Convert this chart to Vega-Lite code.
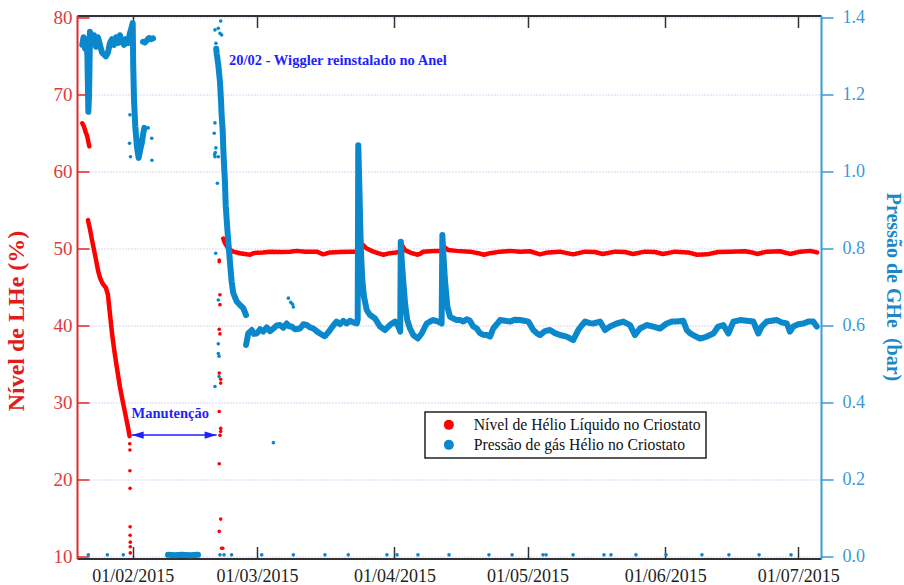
{
  "$schema": "https://vega.github.io/schema/vega-lite/v6.json",
  "width": 744,
  "height": 543,
  "autosize": {"type": "none"},
  "padding": {"left": 77, "top": 15.5, "right": 83, "bottom": 26.5},
  "background": "white",
  "config": {
    "view": {"stroke": null},
    "font": "Liberation Serif",
    "legend": {"strokeWidth": 1.5}
  },
  "datasets": {
    "lhe_linha": [
      {"data": "2015-01-20T15:00", "nivel": 66.3, "trecho": 1},
      {"data": "2015-01-21T00:00", "nivel": 65.9, "trecho": 1},
      {"data": "2015-01-21T09:00", "nivel": 65.2, "trecho": 1},
      {"data": "2015-01-21T18:00", "nivel": 64.6, "trecho": 1},
      {"data": "2015-01-22T05:00", "nivel": 63.3, "trecho": 1},
      {"data": "2015-01-21T22:00", "nivel": 53.7, "trecho": 2},
      {"data": "2015-01-22T09:00", "nivel": 52.5, "trecho": 2},
      {"data": "2015-01-22T20:00", "nivel": 51.1, "trecho": 2},
      {"data": "2015-01-23T07:00", "nivel": 49.8, "trecho": 2},
      {"data": "2015-01-23T18:00", "nivel": 48.5, "trecho": 2},
      {"data": "2015-01-24T04:00", "nivel": 47.2, "trecho": 2},
      {"data": "2015-01-24T15:00", "nivel": 46.2, "trecho": 2},
      {"data": "2015-01-25T02:00", "nivel": 45.6, "trecho": 2},
      {"data": "2015-01-25T13:00", "nivel": 45.2, "trecho": 2},
      {"data": "2015-01-25T23:00", "nivel": 44.9, "trecho": 2},
      {"data": "2015-01-26T10:00", "nivel": 44.0, "trecho": 2},
      {"data": "2015-01-26T21:00", "nivel": 41.5, "trecho": 2},
      {"data": "2015-01-27T08:00", "nivel": 39.0, "trecho": 2},
      {"data": "2015-01-27T19:00", "nivel": 37.0, "trecho": 2},
      {"data": "2015-01-28T06:00", "nivel": 35.2, "trecho": 2},
      {"data": "2015-01-28T17:00", "nivel": 33.5, "trecho": 2},
      {"data": "2015-01-29T03:00", "nivel": 32.0, "trecho": 2},
      {"data": "2015-01-29T14:00", "nivel": 30.6, "trecho": 2},
      {"data": "2015-01-30T01:00", "nivel": 29.3, "trecho": 2},
      {"data": "2015-01-30T12:00", "nivel": 28.0, "trecho": 2},
      {"data": "2015-01-30T23:00", "nivel": 26.7, "trecho": 2},
      {"data": "2015-01-31T07:00", "nivel": 25.6, "trecho": 2},
      {"data": "2015-02-21T10:00", "nivel": 51.3, "trecho": 3},
      {"data": "2015-02-21T19:00", "nivel": 50.7, "trecho": 3},
      {"data": "2015-02-22T13:00", "nivel": 50.0, "trecho": 3},
      {"data": "2015-02-23T16:00", "nivel": 49.6, "trecho": 3},
      {"data": "2015-02-25T04:00", "nivel": 49.4, "trecho": 3},
      {"data": "2015-02-26T17:00", "nivel": 49.25, "trecho": 3},
      {"data": "2015-02-27T11:00", "nivel": 49.2, "trecho": 3},
      {"data": "2015-02-28T04:00", "nivel": 49.4, "trecho": 3},
      {"data": "2015-02-28T23:00", "nivel": 49.45, "trecho": 3},
      {"data": "2015-03-02T09:00", "nivel": 49.5, "trecho": 3},
      {"data": "2015-03-03T23:00", "nivel": 49.6, "trecho": 3},
      {"data": "2015-03-06T05:00", "nivel": 49.55, "trecho": 3},
      {"data": "2015-03-08T11:00", "nivel": 49.6, "trecho": 3},
      {"data": "2015-03-09T23:00", "nivel": 49.7, "trecho": 3},
      {"data": "2015-03-11T20:00", "nivel": 49.6, "trecho": 3},
      {"data": "2015-03-14T11:00", "nivel": 49.6, "trecho": 3},
      {"data": "2015-03-15T23:00", "nivel": 49.25, "trecho": 3},
      {"data": "2015-03-17T11:00", "nivel": 49.5, "trecho": 3},
      {"data": "2015-03-19T17:00", "nivel": 49.55, "trecho": 3},
      {"data": "2015-03-21T23:00", "nivel": 49.6, "trecho": 3},
      {"data": "2015-03-23T17:00", "nivel": 49.6, "trecho": 3},
      {"data": "2015-03-23T20:00", "nivel": 51.1, "trecho": 3},
      {"data": "2015-03-24T02:00", "nivel": 50.7, "trecho": 3},
      {"data": "2015-03-24T20:00", "nivel": 50.5, "trecho": 3},
      {"data": "2015-03-25T18:00", "nivel": 50.0, "trecho": 3},
      {"data": "2015-03-26T12:00", "nivel": 49.8, "trecho": 3},
      {"data": "2015-03-27T06:00", "nivel": 49.6, "trecho": 3},
      {"data": "2015-03-28T07:00", "nivel": 49.4, "trecho": 3},
      {"data": "2015-03-29T12:00", "nivel": 49.2, "trecho": 3},
      {"data": "2015-03-30T23:00", "nivel": 49.4, "trecho": 3},
      {"data": "2015-04-01T08:00", "nivel": 49.5, "trecho": 3},
      {"data": "2015-04-02T07:00", "nivel": 49.6, "trecho": 3},
      {"data": "2015-04-02T15:00", "nivel": 50.5, "trecho": 3},
      {"data": "2015-04-03T09:00", "nivel": 49.8, "trecho": 3},
      {"data": "2015-04-04T03:00", "nivel": 49.6, "trecho": 3},
      {"data": "2015-04-04T21:00", "nivel": 49.4, "trecho": 3},
      {"data": "2015-04-06T06:00", "nivel": 49.2, "trecho": 3},
      {"data": "2015-04-06T18:00", "nivel": 49.3, "trecho": 3},
      {"data": "2015-04-07T12:00", "nivel": 49.6, "trecho": 3},
      {"data": "2015-04-09T00:00", "nivel": 49.65, "trecho": 3},
      {"data": "2015-04-10T09:00", "nivel": 49.7, "trecho": 3},
      {"data": "2015-04-11T15:00", "nivel": 49.7, "trecho": 3},
      {"data": "2015-04-12T00:00", "nivel": 50.3, "trecho": 3},
      {"data": "2015-04-13T03:00", "nivel": 49.8, "trecho": 3},
      {"data": "2015-04-15T00:00", "nivel": 49.7, "trecho": 3},
      {"data": "2015-04-18T00:00", "nivel": 49.6, "trecho": 3},
      {"data": "2015-04-19T21:00", "nivel": 49.4, "trecho": 3},
      {"data": "2015-04-21T04:00", "nivel": 49.2, "trecho": 3},
      {"data": "2015-04-22T13:00", "nivel": 49.4, "trecho": 3},
      {"data": "2015-04-24T19:00", "nivel": 49.6, "trecho": 3},
      {"data": "2015-04-27T01:00", "nivel": 49.7, "trecho": 3},
      {"data": "2015-04-29T07:00", "nivel": 49.6, "trecho": 3},
      {"data": "2015-05-01T13:00", "nivel": 49.65, "trecho": 3},
      {"data": "2015-05-03T19:00", "nivel": 49.25, "trecho": 3},
      {"data": "2015-05-05T14:00", "nivel": 49.5, "trecho": 3},
      {"data": "2015-05-08T07:00", "nivel": 49.6, "trecho": 3},
      {"data": "2015-05-11T06:00", "nivel": 49.25, "trecho": 3},
      {"data": "2015-05-13T23:00", "nivel": 49.6, "trecho": 3},
      {"data": "2015-05-16T04:00", "nivel": 49.55, "trecho": 3},
      {"data": "2015-05-17T23:00", "nivel": 49.3, "trecho": 3},
      {"data": "2015-05-20T17:00", "nivel": 49.6, "trecho": 3},
      {"data": "2015-05-22T23:00", "nivel": 49.55, "trecho": 3},
      {"data": "2015-05-24T18:00", "nivel": 49.3, "trecho": 3},
      {"data": "2015-05-27T11:00", "nivel": 49.6, "trecho": 3},
      {"data": "2015-05-29T17:00", "nivel": 49.55, "trecho": 3},
      {"data": "2015-05-31T12:00", "nivel": 49.3, "trecho": 3},
      {"data": "2015-06-03T06:00", "nivel": 49.6, "trecho": 3},
      {"data": "2015-06-06T04:00", "nivel": 49.5, "trecho": 3},
      {"data": "2015-06-08T05:00", "nivel": 49.2, "trecho": 3},
      {"data": "2015-06-10T11:00", "nivel": 49.25, "trecho": 3},
      {"data": "2015-06-12T22:00", "nivel": 49.55, "trecho": 3},
      {"data": "2015-06-15T15:00", "nivel": 49.6, "trecho": 3},
      {"data": "2015-06-19T00:00", "nivel": 49.65, "trecho": 3},
      {"data": "2015-06-20T14:00", "nivel": 49.5, "trecho": 3},
      {"data": "2015-06-21T17:00", "nivel": 49.3, "trecho": 3},
      {"data": "2015-06-23T23:00", "nivel": 49.6, "trecho": 3},
      {"data": "2015-06-26T21:00", "nivel": 49.65, "trecho": 3},
      {"data": "2015-06-29T03:00", "nivel": 49.3, "trecho": 3},
      {"data": "2015-07-01T10:00", "nivel": 49.6, "trecho": 3},
      {"data": "2015-07-03T16:00", "nivel": 49.7, "trecho": 3},
      {"data": "2015-07-05T06:00", "nivel": 49.5, "trecho": 3}
    ],
    "lhe_pontos": [
      {"data": "2015-01-31T08:00", "nivel": 24.6},
      {"data": "2015-01-31T09:00", "nivel": 23.8},
      {"data": "2015-01-31T09:00", "nivel": 21.1},
      {"data": "2015-01-31T10:00", "nivel": 18.8},
      {"data": "2015-01-31T10:00", "nivel": 13.8},
      {"data": "2015-01-31T10:00", "nivel": 12.7},
      {"data": "2015-01-31T11:00", "nivel": 11.8},
      {"data": "2015-01-31T11:00", "nivel": 11.2},
      {"data": "2015-01-31T11:00", "nivel": 10.4},
      {"data": "2015-02-20T12:00", "nivel": 48.5},
      {"data": "2015-02-20T12:00", "nivel": 48.3},
      {"data": "2015-02-20T16:00", "nivel": 44.0},
      {"data": "2015-02-20T16:00", "nivel": 42.7},
      {"data": "2015-02-20T12:00", "nivel": 39.5},
      {"data": "2015-02-20T16:00", "nivel": 38.9},
      {"data": "2015-02-20T12:00", "nivel": 33.8},
      {"data": "2015-02-20T20:00", "nivel": 33.0},
      {"data": "2015-02-20T20:00", "nivel": 32.5},
      {"data": "2015-02-20T12:00", "nivel": 28.8},
      {"data": "2015-02-20T20:00", "nivel": 26.6},
      {"data": "2015-02-20T20:00", "nivel": 26.2},
      {"data": "2015-02-20T16:00", "nivel": 25.7},
      {"data": "2015-02-20T12:00", "nivel": 22.0},
      {"data": "2015-02-20T20:00", "nivel": 14.8},
      {"data": "2015-02-20T12:00", "nivel": 13.2},
      {"data": "2015-02-21T01:00", "nivel": 11.0},
      {"data": "2015-02-21T07:00", "nivel": 11.0}
    ],
    "ghe_linha": [
      {"data": "2015-01-20T15:00", "pressao": 1.33, "trecho": 1},
      {"data": "2015-01-20T22:00", "pressao": 1.35, "trecho": 1},
      {"data": "2015-01-21T06:00", "pressao": 1.32, "trecho": 1},
      {"data": "2015-01-21T14:00", "pressao": 1.345, "trecho": 1},
      {"data": "2015-01-21T19:00", "pressao": 1.30, "trecho": 1},
      {"data": "2015-01-22T00:00", "pressao": 1.156, "trecho": 1},
      {"data": "2015-01-22T04:00", "pressao": 1.20, "trecho": 1},
      {"data": "2015-01-22T09:00", "pressao": 1.364, "trecho": 1},
      {"data": "2015-01-22T20:00", "pressao": 1.33, "trecho": 1},
      {"data": "2015-01-23T07:00", "pressao": 1.355, "trecho": 1},
      {"data": "2015-01-23T18:00", "pressao": 1.325, "trecho": 1},
      {"data": "2015-01-24T04:00", "pressao": 1.35, "trecho": 1},
      {"data": "2015-01-24T15:00", "pressao": 1.33, "trecho": 1},
      {"data": "2015-01-25T02:00", "pressao": 1.31, "trecho": 1},
      {"data": "2015-01-25T13:00", "pressao": 1.305, "trecho": 1},
      {"data": "2015-01-25T23:00", "pressao": 1.30, "trecho": 1},
      {"data": "2015-01-26T10:00", "pressao": 1.31, "trecho": 1},
      {"data": "2015-01-26T21:00", "pressao": 1.335, "trecho": 1},
      {"data": "2015-01-27T08:00", "pressao": 1.345, "trecho": 1},
      {"data": "2015-01-27T19:00", "pressao": 1.33, "trecho": 1},
      {"data": "2015-01-28T06:00", "pressao": 1.35, "trecho": 1},
      {"data": "2015-01-28T17:00", "pressao": 1.335, "trecho": 1},
      {"data": "2015-01-29T03:00", "pressao": 1.355, "trecho": 1},
      {"data": "2015-01-29T14:00", "pressao": 1.34, "trecho": 1},
      {"data": "2015-01-30T01:00", "pressao": 1.33, "trecho": 1},
      {"data": "2015-01-30T12:00", "pressao": 1.345, "trecho": 1},
      {"data": "2015-01-30T23:00", "pressao": 1.335, "trecho": 1},
      {"data": "2015-01-31T09:00", "pressao": 1.36, "trecho": 1},
      {"data": "2015-01-31T18:00", "pressao": 1.375, "trecho": 1},
      {"data": "2015-02-01T00:00", "pressao": 1.387, "trecho": 1},
      {"data": "2015-02-01T03:00", "pressao": 1.273, "trecho": 1},
      {"data": "2015-02-01T07:00", "pressao": 1.187, "trecho": 1},
      {"data": "2015-02-01T14:00", "pressao": 1.117, "trecho": 1},
      {"data": "2015-02-01T23:00", "pressao": 1.065, "trecho": 1},
      {"data": "2015-02-02T08:00", "pressao": 1.036, "trecho": 1},
      {"data": "2015-02-02T18:00", "pressao": 1.06, "trecho": 1},
      {"data": "2015-02-03T01:00", "pressao": 1.074, "trecho": 1},
      {"data": "2015-02-03T09:00", "pressao": 1.10, "trecho": 1},
      {"data": "2015-02-03T15:00", "pressao": 1.114, "trecho": 1},
      {"data": "2015-02-03T08:00", "pressao": 1.338, "trecho": 2},
      {"data": "2015-02-03T18:00", "pressao": 1.336, "trecho": 2},
      {"data": "2015-02-04T05:00", "pressao": 1.342, "trecho": 2},
      {"data": "2015-02-04T16:00", "pressao": 1.348, "trecho": 2},
      {"data": "2015-02-05T03:00", "pressao": 1.345, "trecho": 2},
      {"data": "2015-02-05T14:00", "pressao": 1.347, "trecho": 2},
      {"data": "2015-02-08T23:00", "pressao": 0.003, "trecho": 3},
      {"data": "2015-02-10T12:00", "pressao": 0.002, "trecho": 3},
      {"data": "2015-02-12T00:00", "pressao": 0.003, "trecho": 3},
      {"data": "2015-02-14T00:00", "pressao": 0.002, "trecho": 3},
      {"data": "2015-02-15T17:00", "pressao": 0.003, "trecho": 3},
      {"data": "2015-02-19T20:00", "pressao": 1.32, "trecho": 4},
      {"data": "2015-02-19T22:00", "pressao": 1.308, "trecho": 4},
      {"data": "2015-02-20T07:00", "pressao": 1.278, "trecho": 4},
      {"data": "2015-02-20T16:00", "pressao": 1.234, "trecho": 4},
      {"data": "2015-02-20T22:00", "pressao": 1.182, "trecho": 4},
      {"data": "2015-02-21T01:00", "pressao": 1.148, "trecho": 4},
      {"data": "2015-02-21T07:00", "pressao": 1.104, "trecho": 4},
      {"data": "2015-02-21T10:00", "pressao": 1.061, "trecho": 4},
      {"data": "2015-02-21T14:00", "pressao": 1.018, "trecho": 4},
      {"data": "2015-02-21T19:00", "pressao": 0.974, "trecho": 4},
      {"data": "2015-02-21T23:00", "pressao": 0.913, "trecho": 4},
      {"data": "2015-02-22T05:00", "pressao": 0.870, "trecho": 4},
      {"data": "2015-02-22T13:00", "pressao": 0.818, "trecho": 4},
      {"data": "2015-02-22T22:00", "pressao": 0.766, "trecho": 4},
      {"data": "2015-02-23T07:00", "pressao": 0.714, "trecho": 4},
      {"data": "2015-02-23T16:00", "pressao": 0.684, "trecho": 4},
      {"data": "2015-02-24T11:00", "pressao": 0.662, "trecho": 4},
      {"data": "2015-02-25T04:00", "pressao": 0.653, "trecho": 4},
      {"data": "2015-02-25T22:00", "pressao": 0.645, "trecho": 4},
      {"data": "2015-02-26T13:00", "pressao": 0.627, "trecho": 4},
      {"data": "2015-02-26T13:00", "pressao": 0.549, "trecho": 5},
      {"data": "2015-02-27T01:00", "pressao": 0.579, "trecho": 5},
      {"data": "2015-02-27T20:00", "pressao": 0.588, "trecho": 5},
      {"data": "2015-02-28T08:00", "pressao": 0.578, "trecho": 5},
      {"data": "2015-02-28T23:00", "pressao": 0.579, "trecho": 5},
      {"data": "2015-03-01T17:00", "pressao": 0.59, "trecho": 5},
      {"data": "2015-03-02T10:00", "pressao": 0.584, "trecho": 5},
      {"data": "2015-03-03T05:00", "pressao": 0.595, "trecho": 5},
      {"data": "2015-03-03T23:00", "pressao": 0.585, "trecho": 5},
      {"data": "2015-03-04T17:00", "pressao": 0.592, "trecho": 5},
      {"data": "2015-03-05T11:00", "pressao": 0.60, "trecho": 5},
      {"data": "2015-03-06T05:00", "pressao": 0.601, "trecho": 5},
      {"data": "2015-03-06T23:00", "pressao": 0.594, "trecho": 5},
      {"data": "2015-03-07T17:00", "pressao": 0.605, "trecho": 5},
      {"data": "2015-03-08T06:00", "pressao": 0.598, "trecho": 5},
      {"data": "2015-03-08T20:00", "pressao": 0.597, "trecho": 5},
      {"data": "2015-03-09T14:00", "pressao": 0.59, "trecho": 5},
      {"data": "2015-03-10T17:00", "pressao": 0.592, "trecho": 5},
      {"data": "2015-03-11T11:00", "pressao": 0.603, "trecho": 5},
      {"data": "2015-03-12T05:00", "pressao": 0.601, "trecho": 5},
      {"data": "2015-03-12T23:00", "pressao": 0.595, "trecho": 5},
      {"data": "2015-03-13T17:00", "pressao": 0.592, "trecho": 5},
      {"data": "2015-03-14T11:00", "pressao": 0.585, "trecho": 5},
      {"data": "2015-03-15T05:00", "pressao": 0.579, "trecho": 5},
      {"data": "2015-03-15T19:00", "pressao": 0.575, "trecho": 5},
      {"data": "2015-03-16T08:00", "pressao": 0.572, "trecho": 5},
      {"data": "2015-03-16T22:00", "pressao": 0.58, "trecho": 5},
      {"data": "2015-03-17T11:00", "pressao": 0.588, "trecho": 5},
      {"data": "2015-03-18T05:00", "pressao": 0.60, "trecho": 5},
      {"data": "2015-03-18T23:00", "pressao": 0.610, "trecho": 5},
      {"data": "2015-03-19T17:00", "pressao": 0.603, "trecho": 5},
      {"data": "2015-03-20T11:00", "pressao": 0.612, "trecho": 5},
      {"data": "2015-03-21T06:00", "pressao": 0.605, "trecho": 5},
      {"data": "2015-03-21T23:00", "pressao": 0.612, "trecho": 5},
      {"data": "2015-03-22T17:00", "pressao": 0.608, "trecho": 5},
      {"data": "2015-03-23T12:00", "pressao": 0.605, "trecho": 5},
      {"data": "2015-03-23T17:00", "pressao": 0.615, "trecho": 5},
      {"data": "2015-03-23T20:00", "pressao": 1.069, "trecho": 5},
      {"data": "2015-03-24T02:00", "pressao": 0.961, "trecho": 5},
      {"data": "2015-03-24T06:00", "pressao": 0.874, "trecho": 5},
      {"data": "2015-03-24T11:00", "pressao": 0.788, "trecho": 5},
      {"data": "2015-03-24T18:00", "pressao": 0.718, "trecho": 5},
      {"data": "2015-03-25T03:00", "pressao": 0.675, "trecho": 5},
      {"data": "2015-03-25T18:00", "pressao": 0.640, "trecho": 5},
      {"data": "2015-03-26T12:00", "pressao": 0.627, "trecho": 5},
      {"data": "2015-03-27T15:00", "pressao": 0.618, "trecho": 5},
      {"data": "2015-03-28T18:00", "pressao": 0.597, "trecho": 5},
      {"data": "2015-03-29T21:00", "pressao": 0.588, "trecho": 5},
      {"data": "2015-03-30T23:00", "pressao": 0.601, "trecho": 5},
      {"data": "2015-04-01T03:00", "pressao": 0.610, "trecho": 5},
      {"data": "2015-04-01T21:00", "pressao": 0.597, "trecho": 5},
      {"data": "2015-04-02T07:00", "pressao": 0.584, "trecho": 5},
      {"data": "2015-04-02T10:00", "pressao": 0.818, "trecho": 5},
      {"data": "2015-04-02T15:00", "pressao": 0.770, "trecho": 5},
      {"data": "2015-04-02T23:00", "pressao": 0.718, "trecho": 5},
      {"data": "2015-04-03T09:00", "pressao": 0.658, "trecho": 5},
      {"data": "2015-04-03T21:00", "pressao": 0.614, "trecho": 5},
      {"data": "2015-04-04T12:00", "pressao": 0.592, "trecho": 5},
      {"data": "2015-04-05T06:00", "pressao": 0.575, "trecho": 5},
      {"data": "2015-04-06T06:00", "pressao": 0.566, "trecho": 5},
      {"data": "2015-04-07T03:00", "pressao": 0.579, "trecho": 5},
      {"data": "2015-04-08T06:00", "pressao": 0.605, "trecho": 5},
      {"data": "2015-04-09T00:00", "pressao": 0.61, "trecho": 5},
      {"data": "2015-04-09T18:00", "pressao": 0.614, "trecho": 5},
      {"data": "2015-04-10T21:00", "pressao": 0.610, "trecho": 5},
      {"data": "2015-04-11T15:00", "pressao": 0.605, "trecho": 5},
      {"data": "2015-04-11T19:00", "pressao": 0.835, "trecho": 5},
      {"data": "2015-04-12T00:00", "pressao": 0.788, "trecho": 5},
      {"data": "2015-04-12T09:00", "pressao": 0.718, "trecho": 5},
      {"data": "2015-04-12T22:00", "pressao": 0.649, "trecho": 5},
      {"data": "2015-04-13T12:00", "pressao": 0.623, "trecho": 5},
      {"data": "2015-04-14T05:00", "pressao": 0.618, "trecho": 5},
      {"data": "2015-04-15T00:00", "pressao": 0.614, "trecho": 5},
      {"data": "2015-04-15T18:00", "pressao": 0.614, "trecho": 5},
      {"data": "2015-04-16T12:00", "pressao": 0.610, "trecho": 5},
      {"data": "2015-04-17T07:00", "pressao": 0.616, "trecho": 5},
      {"data": "2015-04-18T00:00", "pressao": 0.612, "trecho": 5},
      {"data": "2015-04-18T17:00", "pressao": 0.598, "trecho": 5},
      {"data": "2015-04-19T13:00", "pressao": 0.592, "trecho": 5},
      {"data": "2015-04-20T06:00", "pressao": 0.580, "trecho": 5},
      {"data": "2015-04-21T00:00", "pressao": 0.576, "trecho": 5},
      {"data": "2015-04-21T19:00", "pressao": 0.575, "trecho": 5},
      {"data": "2015-04-22T13:00", "pressao": 0.571, "trecho": 5},
      {"data": "2015-04-23T06:00", "pressao": 0.592, "trecho": 5},
      {"data": "2015-04-24T01:00", "pressao": 0.603, "trecho": 5},
      {"data": "2015-04-24T19:00", "pressao": 0.614, "trecho": 5},
      {"data": "2015-04-25T22:00", "pressao": 0.612, "trecho": 5},
      {"data": "2015-04-27T01:00", "pressao": 0.610, "trecho": 5},
      {"data": "2015-04-28T04:00", "pressao": 0.615, "trecho": 5},
      {"data": "2015-04-29T07:00", "pressao": 0.614, "trecho": 5},
      {"data": "2015-04-30T05:00", "pressao": 0.612, "trecho": 5},
      {"data": "2015-05-01T04:00", "pressao": 0.610, "trecho": 5},
      {"data": "2015-05-02T07:00", "pressao": 0.588, "trecho": 5},
      {"data": "2015-05-03T01:00", "pressao": 0.580, "trecho": 5},
      {"data": "2015-05-03T19:00", "pressao": 0.575, "trecho": 5},
      {"data": "2015-05-04T22:00", "pressao": 0.585, "trecho": 5},
      {"data": "2015-05-06T01:00", "pressao": 0.588, "trecho": 5},
      {"data": "2015-05-07T04:00", "pressao": 0.580, "trecho": 5},
      {"data": "2015-05-08T07:00", "pressao": 0.575, "trecho": 5},
      {"data": "2015-05-09T19:00", "pressao": 0.571, "trecho": 5},
      {"data": "2015-05-11T07:00", "pressao": 0.562, "trecho": 5},
      {"data": "2015-05-12T10:00", "pressao": 0.588, "trecho": 5},
      {"data": "2015-05-13T05:00", "pressao": 0.600, "trecho": 5},
      {"data": "2015-05-13T23:00", "pressao": 0.610, "trecho": 5},
      {"data": "2015-05-15T01:00", "pressao": 0.606, "trecho": 5},
      {"data": "2015-05-15T19:00", "pressao": 0.605, "trecho": 5},
      {"data": "2015-05-17T08:00", "pressao": 0.610, "trecho": 5},
      {"data": "2015-05-18T11:00", "pressao": 0.588, "trecho": 5},
      {"data": "2015-05-19T14:00", "pressao": 0.597, "trecho": 5},
      {"data": "2015-05-21T02:00", "pressao": 0.605, "trecho": 5},
      {"data": "2015-05-22T14:00", "pressao": 0.610, "trecho": 5},
      {"data": "2015-05-24T02:00", "pressao": 0.601, "trecho": 5},
      {"data": "2015-05-25T05:00", "pressao": 0.575, "trecho": 5},
      {"data": "2015-05-26T08:00", "pressao": 0.592, "trecho": 5},
      {"data": "2015-05-27T20:00", "pressao": 0.601, "trecho": 5},
      {"data": "2015-05-29T08:00", "pressao": 0.597, "trecho": 5},
      {"data": "2015-05-30T20:00", "pressao": 0.592, "trecho": 5},
      {"data": "2015-06-01T08:00", "pressao": 0.605, "trecho": 5},
      {"data": "2015-06-02T12:00", "pressao": 0.610, "trecho": 5},
      {"data": "2015-06-03T14:00", "pressao": 0.610, "trecho": 5},
      {"data": "2015-06-05T02:00", "pressao": 0.612, "trecho": 5},
      {"data": "2015-06-05T21:00", "pressao": 0.588, "trecho": 5},
      {"data": "2015-06-06T14:00", "pressao": 0.580, "trecho": 5},
      {"data": "2015-06-07T08:00", "pressao": 0.575, "trecho": 5},
      {"data": "2015-06-08T03:00", "pressao": 0.570, "trecho": 5},
      {"data": "2015-06-08T21:00", "pressao": 0.566, "trecho": 5},
      {"data": "2015-06-09T14:00", "pressao": 0.568, "trecho": 5},
      {"data": "2015-06-10T09:00", "pressao": 0.571, "trecho": 5},
      {"data": "2015-06-11T03:00", "pressao": 0.575, "trecho": 5},
      {"data": "2015-06-11T21:00", "pressao": 0.579, "trecho": 5},
      {"data": "2015-06-12T23:00", "pressao": 0.597, "trecho": 5},
      {"data": "2015-06-14T03:00", "pressao": 0.601, "trecho": 5},
      {"data": "2015-06-15T06:00", "pressao": 0.579, "trecho": 5},
      {"data": "2015-06-16T09:00", "pressao": 0.610, "trecho": 5},
      {"data": "2015-06-17T21:00", "pressao": 0.614, "trecho": 5},
      {"data": "2015-06-19T09:00", "pressao": 0.612, "trecho": 5},
      {"data": "2015-06-20T21:00", "pressao": 0.610, "trecho": 5},
      {"data": "2015-06-22T00:00", "pressao": 0.579, "trecho": 5},
      {"data": "2015-06-22T18:00", "pressao": 0.597, "trecho": 5},
      {"data": "2015-06-23T21:00", "pressao": 0.610, "trecho": 5},
      {"data": "2015-06-25T00:00", "pressao": 0.612, "trecho": 5},
      {"data": "2015-06-26T03:00", "pressao": 0.614, "trecho": 5},
      {"data": "2015-06-27T06:00", "pressao": 0.608, "trecho": 5},
      {"data": "2015-06-28T10:00", "pressao": 0.605, "trecho": 5},
      {"data": "2015-06-29T03:00", "pressao": 0.584, "trecho": 5},
      {"data": "2015-06-29T21:00", "pressao": 0.597, "trecho": 5},
      {"data": "2015-07-01T00:00", "pressao": 0.603, "trecho": 5},
      {"data": "2015-07-02T03:00", "pressao": 0.605, "trecho": 5},
      {"data": "2015-07-03T06:00", "pressao": 0.610, "trecho": 5},
      {"data": "2015-07-04T09:00", "pressao": 0.610, "trecho": 5},
      {"data": "2015-07-05T04:00", "pressao": 0.597, "trecho": 5}
    ],
    "ghe_pontos": [
      {"data": "2015-01-22T00:00", "pressao": 0.003},
      {"data": "2015-01-26T07:00", "pressao": 0.003},
      {"data": "2015-01-29T21:00", "pressao": 0.003},
      {"data": "2015-01-31T09:00", "pressao": 1.148},
      {"data": "2015-01-31T07:00", "pressao": 1.074},
      {"data": "2015-01-31T12:00", "pressao": 1.039},
      {"data": "2015-02-04T12:00", "pressao": 1.114},
      {"data": "2015-02-05T07:00", "pressao": 1.087},
      {"data": "2015-02-05T08:00", "pressao": 1.030},
      {"data": "2015-02-20T20:00", "pressao": 1.392},
      {"data": "2015-02-20T07:00", "pressao": 1.373},
      {"data": "2015-02-20T16:00", "pressao": 1.36},
      {"data": "2015-02-21T01:00", "pressao": 1.356},
      {"data": "2015-02-19T18:00", "pressao": 1.334},
      {"data": "2015-02-19T13:00", "pressao": 1.369},
      {"data": "2015-02-19T13:00", "pressao": 1.127},
      {"data": "2015-02-19T09:00", "pressao": 1.10},
      {"data": "2015-02-19T18:00", "pressao": 1.062},
      {"data": "2015-02-19T13:00", "pressao": 1.039},
      {"data": "2015-02-20T07:00", "pressao": 1.039},
      {"data": "2015-02-19T15:00", "pressao": 1.05},
      {"data": "2015-02-19T11:00", "pressao": 1.045},
      {"data": "2015-02-20T02:00", "pressao": 0.970},
      {"data": "2015-02-19T17:00", "pressao": 0.788},
      {"data": "2015-02-20T07:00", "pressao": 0.666},
      {"data": "2015-02-20T07:00", "pressao": 0.552},
      {"data": "2015-02-20T07:00", "pressao": 0.527},
      {"data": "2015-02-20T11:00", "pressao": 0.52},
      {"data": "2015-02-20T11:00", "pressao": 0.467},
      {"data": "2015-02-19T13:00", "pressao": 0.441},
      {"data": "2015-03-04T17:00", "pressao": 0.295},
      {"data": "2015-03-08T02:00", "pressao": 0.671},
      {"data": "2015-03-08T15:00", "pressao": 0.66},
      {"data": "2015-03-09T01:00", "pressao": 0.655},
      {"data": "2015-03-09T05:00", "pressao": 0.648},
      {"data": "2015-02-20T16:00", "pressao": 0.003},
      {"data": "2015-02-21T14:00", "pressao": 0.003},
      {"data": "2015-02-23T07:00", "pressao": 0.003},
      {"data": "2015-03-02T02:00", "pressao": 0.003},
      {"data": "2015-03-09T05:00", "pressao": 0.003},
      {"data": "2015-03-16T08:00", "pressao": 0.003},
      {"data": "2015-03-21T14:00", "pressao": 0.003},
      {"data": "2015-03-30T07:00", "pressao": 0.003},
      {"data": "2015-04-01T14:00", "pressao": 0.003},
      {"data": "2015-04-06T07:00", "pressao": 0.003},
      {"data": "2015-04-13T07:00", "pressao": 0.003},
      {"data": "2015-04-22T07:00", "pressao": 0.003},
      {"data": "2015-04-27T12:00", "pressao": 0.003},
      {"data": "2015-05-04T11:00", "pressao": 0.003},
      {"data": "2015-05-05T04:00", "pressao": 0.003},
      {"data": "2015-05-11T06:00", "pressao": 0.003},
      {"data": "2015-05-18T05:00", "pressao": 0.003},
      {"data": "2015-05-19T19:00", "pressao": 0.003},
      {"data": "2015-05-25T10:00", "pressao": 0.003},
      {"data": "2015-06-01T05:00", "pressao": 0.003},
      {"data": "2015-06-09T07:00", "pressao": 0.003},
      {"data": "2015-06-15T09:00", "pressao": 0.003},
      {"data": "2015-06-22T04:00", "pressao": 0.003},
      {"data": "2015-06-29T09:00", "pressao": 0.003}
    ],
    "notas": [
      {"data": "2015-02-22T17:00", "nivel": 73.88, "texto": "20/02 - Wiggler reinstalado no Anel"},
      {"data": "2015-01-31T18:00", "nivel": 27.96, "texto": "Manutenção"}
    ],
    "seta": [
      {"data": "2015-01-31T18:40", "fim": "2015-02-19T22:00", "nivel": 25.74}
    ],
    "pontas": [
      {"data": "2015-01-31T18:40", "nivel": 25.74, "lado": "esquerda"},
      {"data": "2015-02-19T22:00", "nivel": 25.74, "lado": "direita"}
    ]
  },
  "layer": [
    {
      "encoding": {
        "x": {
          "field": "data", "type": "temporal",
          "scale": {"domain": [{"year": 2015, "month": 1, "date": 19, "hours": 10, "minutes": 43}, {"year": 2015, "month": 7, "date": 6, "hours": 3}]},
          "axis": {
            "orient": "bottom", "title": null,
            "values": [{"year": 2015, "month": 2, "date": 1}, {"year": 2015, "month": 3, "date": 1}, {"year": 2015, "month": 4, "date": 1}, {"year": 2015, "month": 5, "date": 1}, {"year": 2015, "month": 6, "date": 1}, {"year": 2015, "month": 7, "date": 1}],
            "format": "%d/%m/%Y", "grid": false,
            "labelFont": "Liberation Serif", "labelFontSize": 18, "labelColor": "#222222",
            "labelPadding": 21, "labelFlush": false, "labelOverlap": false,
            "tickSize": -12, "tickColor": "#333333", "tickWidth": 1.5,
            "domainColor": "#333333", "domainWidth": 1.8
          }
        },
        "y": {
          "field": "nivel", "type": "quantitative",
          "scale": {"domain": [9.675, 80.325], "nice": false, "zero": false},
          "axis": {
            "orient": "left",
            "values": [10, 20, 30, 40, 50, 60, 70, 80],
            "title": "Nível de LHe (%)",
            "titleFont": "Liberation Serif", "titleFontSize": 24, "titleFontWeight": "bold", "titleColor": "#e31b1b",
            "titleAngle": 270, "titleX": -61, "titleY": 305, "titleAlign": "center", "titleBaseline": "middle",
            "labelFont": "Liberation Serif", "labelFontSize": 19, "labelColor": "#e03a3a",
            "labelPadding": 17,
            "tickSize": -12, "tickColor": "#dd2a2a", "tickWidth": 1.5,
            "domainColor": "#dd2a2a", "domainWidth": 2,
            "grid": true, "gridColor": "#9595ea", "gridDash": [1, 2], "gridWidth": 0.8
          }
        }
      },
      "layer": [
        {
          "data": {"name": "lhe_linha"},
          "mark": {"type": "line", "color": "#ff0000", "strokeWidth": 4.5, "strokeCap": "round", "strokeJoin": "round"},
          "encoding": {"detail": {"field": "trecho", "type": "nominal"}}
        },
        {
          "data": {"name": "lhe_pontos"},
          "mark": {"type": "point", "filled": true, "size": 13, "opacity": 1},
          "encoding": {
            "color": {
              "datum": "Nível de Hélio Líquido no Criostato",
              "scale": {"domain": ["Nível de Hélio Líquido no Criostato", "Pressão de gás Hélio no Criostato"], "range": ["#ff0000", "#0b88cc"]},
              "legend": {
                "orient": "none", "legendX": 348, "legendY": 396.5,
                "title": null, "padding": 5, "symbolOffset": 11, "labelOffset": 17,
                "symbolType": "circle", "symbolSize": 100, "symbolStrokeWidth": 0,
                "labelFont": "Liberation Serif", "labelFontSize": 15.7, "labelColor": "#111111", "labelLimit": 400,
                "rowPadding": 3, "strokeColor": "#222222", "fillColor": "#ffffff"
              }
            }
          }
        }
      ]
    },
    {
      "encoding": {
        "x": {
          "field": "data", "type": "temporal",
          "scale": {"domain": [{"year": 2015, "month": 1, "date": 19, "hours": 10, "minutes": 43}, {"year": 2015, "month": 7, "date": 6, "hours": 3}]},
          "axis": null
        },
        "y": {
          "field": "pressao", "type": "quantitative",
          "scale": {"domain": [-0.0065, 1.4065], "nice": false, "zero": false},
          "axis": {
            "orient": "right",
            "values": [0, 0.2, 0.4, 0.6, 0.8, 1.0, 1.2, 1.4],
            "format": ".1f",
            "title": "Pressão de GHe\u00a0 (bar)",
            "titleFont": "Liberation Serif", "titleFontSize": 20, "titleFontWeight": "bold", "titleColor": "#1b87c9",
            "titleAngle": 90, "titleX": 71, "titleY": 271, "titleAlign": "center", "titleBaseline": "middle",
            "labelFont": "Liberation Serif", "labelFontSize": 18, "labelColor": "#3a9ad7",
            "labelPadding": 9,
            "tickSize": 12, "tickColor": "#3a9ad7", "tickWidth": 1.5,
            "domainColor": "#3a9ad7", "domainWidth": 2,
            "grid": false
          }
        }
      },
      "layer": [
        {
          "data": {"name": "ghe_linha"},
          "mark": {"type": "line", "color": "#0b88cc", "strokeWidth": 6, "strokeCap": "round", "strokeJoin": "round"},
          "encoding": {"detail": {"field": "trecho", "type": "nominal"}}
        },
        {
          "data": {"name": "ghe_pontos"},
          "mark": {"type": "point", "filled": true, "size": 13, "opacity": 1},
          "encoding": {
            "color": {
              "datum": "Pressão de gás Hélio no Criostato",
              "scale": {"domain": ["Nível de Hélio Líquido no Criostato", "Pressão de gás Hélio no Criostato"], "range": ["#ff0000", "#0b88cc"]}
            }
          }
        }
      ]
    },
    {
      "encoding": {
        "x": {
          "field": "data", "type": "temporal",
          "scale": {"domain": [{"year": 2015, "month": 1, "date": 19, "hours": 10, "minutes": 43}, {"year": 2015, "month": 7, "date": 6, "hours": 3}]},
          "axis": {
            "orient": "top", "title": null, "labels": false, "grid": false,
            "values": [{"year": 2015, "month": 2, "date": 1}, {"year": 2015, "month": 3, "date": 1}, {"year": 2015, "month": 4, "date": 1}, {"year": 2015, "month": 5, "date": 1}, {"year": 2015, "month": 6, "date": 1}, {"year": 2015, "month": 7, "date": 1}],
            "tickSize": -12, "tickColor": "#333333", "tickWidth": 1.5,
            "domainColor": "#333333", "domainWidth": 1.8
          }
        },
        "y": {
          "field": "nivel", "type": "quantitative",
          "scale": {"domain": [9.675, 80.325], "nice": false, "zero": false},
          "axis": null
        }
      },
      "layer": [
        {
          "data": {"name": "notas"},
          "mark": {"type": "text", "align": "left", "baseline": "alphabetic", "font": "Liberation Serif", "fontSize": 14.5, "fontWeight": "bold", "color": "#1f1fff"},
          "encoding": {"text": {"field": "texto", "type": "nominal"}}
        },
        {
          "data": {"name": "seta"},
          "mark": {"type": "rule", "color": "#1f1fff", "strokeWidth": 1.5},
          "encoding": {"x2": {"field": "fim"}}
        },
        {
          "data": {"name": "pontas"},
          "mark": {"type": "point", "filled": true, "opacity": 1, "size": 144, "color": "#1f1fff"},
          "encoding": {
            "shape": {
              "field": "lado", "type": "nominal",
              "scale": {"domain": ["esquerda", "direita"], "range": ["M0,0L2,-0.6L2,0.6Z", "M0,0L-2,-0.6L-2,0.6Z"]},
              "legend": null
            }
          }
        }
      ]
    }
  ],
  "resolve": {"scale": {"y": "independent"}, "axis": {"x": "independent", "y": "independent"}}
}
